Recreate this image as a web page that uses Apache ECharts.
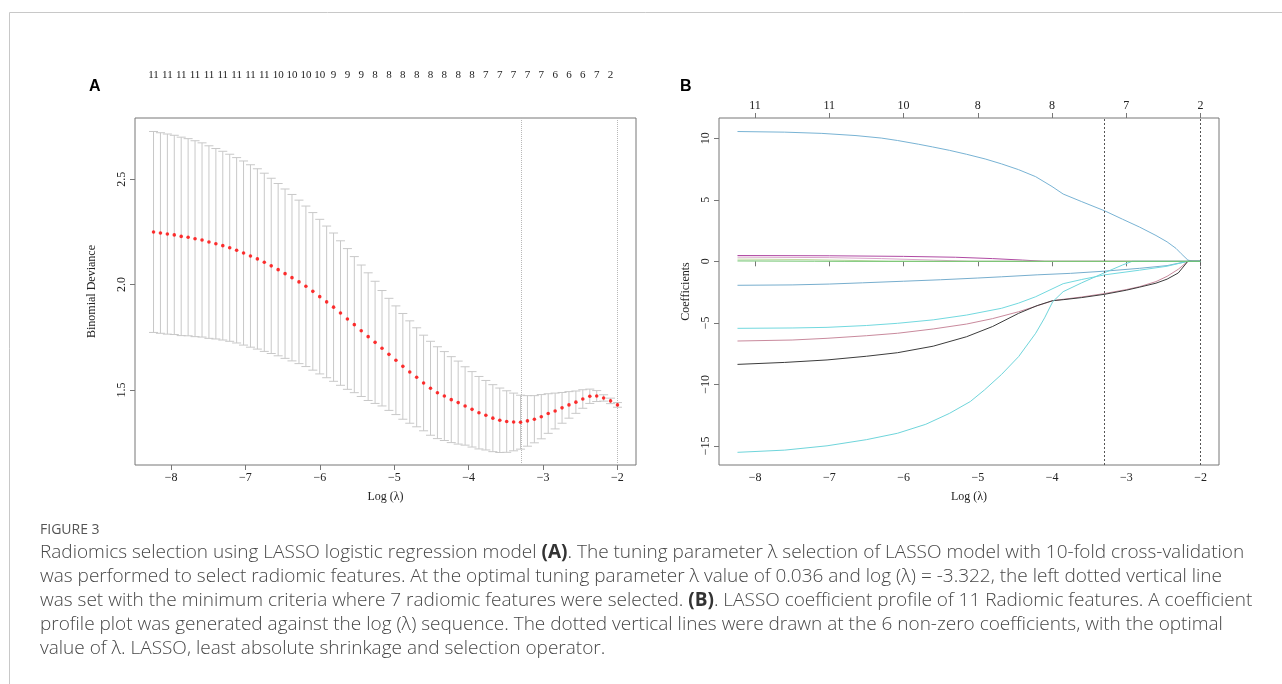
<!DOCTYPE html>
<html><head><meta charset="utf-8">
<script src="https://cdn.jsdelivr.net/npm/echarts@6/dist/echarts.min.js"></script>
<style>html,body{margin:0;padding:0;background:#fff;}#c{width:1282px;height:684px;}</style>
</head><body><div id="c"></div>
<script>
// ---------- Panel A: cross-validation curve ----------
const logLambda = [-8.236,-8.143,-8.050,-7.957,-7.864,-7.771,-7.678,-7.584,-7.491,-7.398,
  -7.305,-7.212,-7.119,-7.026,-6.933,-6.840,-6.747,-6.654,-6.561,-6.468,
  -6.375,-6.281,-6.188,-6.095,-6.002,-5.909,-5.816,-5.723,-5.630,-5.537,
  -5.444,-5.351,-5.258,-5.165,-5.072,-4.978,-4.885,-4.792,-4.699,-4.606,
  -4.513,-4.420,-4.327,-4.234,-4.141,-4.048,-3.955,-3.862,-3.769,-3.675,
  -3.582,-3.489,-3.396,-3.303,-3.210,-3.117,-3.024,-2.931,-2.838,-2.745,
  -2.652,-2.559,-2.466,-2.372,-2.279,-2.186,-2.093,-2.000];
const cvMean = [2.250,2.245,2.240,2.236,2.229,2.225,2.218,2.212,2.202,2.194,
  2.185,2.175,2.163,2.150,2.136,2.122,2.106,2.089,2.071,2.052,
  2.033,2.013,1.992,1.968,1.943,1.918,1.893,1.865,1.837,1.810,
  1.781,1.753,1.726,1.698,1.669,1.641,1.612,1.585,1.560,1.533,
  1.508,1.487,1.471,1.454,1.440,1.424,1.408,1.392,1.380,1.366,
  1.356,1.350,1.348,1.347,1.353,1.361,1.373,1.388,1.400,1.415,
  1.429,1.442,1.457,1.470,1.471,1.462,1.448,1.429];
const cvUpper = [2.727,2.721,2.715,2.709,2.700,2.693,2.683,2.673,2.659,2.646,
  2.633,2.619,2.603,2.587,2.569,2.550,2.529,2.505,2.480,2.454,
  2.428,2.401,2.373,2.342,2.310,2.278,2.245,2.208,2.171,2.133,
  2.093,2.056,2.016,1.972,1.935,1.899,1.863,1.828,1.795,1.760,
  1.731,1.705,1.682,1.658,1.637,1.610,1.587,1.564,1.545,1.525,
  1.509,1.496,1.485,1.475,1.473,1.473,1.478,1.482,1.485,1.488,
  1.492,1.495,1.501,1.504,1.497,1.477,1.461,1.440];
const cvLower = [1.773,1.769,1.765,1.763,1.758,1.757,1.753,1.751,1.745,1.742,
  1.737,1.731,1.723,1.713,1.703,1.694,1.683,1.673,1.662,1.650,
  1.638,1.625,1.611,1.594,1.576,1.558,1.541,1.522,1.503,1.487,
  1.469,1.450,1.436,1.424,1.403,1.383,1.361,1.342,1.325,1.306,
  1.285,1.269,1.260,1.250,1.243,1.238,1.229,1.220,1.215,1.207,
  1.203,1.204,1.211,1.219,1.233,1.249,1.268,1.294,1.315,1.342,
  1.366,1.389,1.413,1.436,1.445,1.447,1.435,1.418];
// non-zero counts shown on top of panel A (every second lambda)
const nzTopA = [11,11,11,11,11,11,11,11,11,10,10,10,10,9,9,9,8,8,8,8,8,8,8,8,7,7,7,7,7,6,6,6,7,2];
const vLinesA = [-3.303,-2.000];
const yTicksA = [1.5,2.0,2.5];
const xTicks = [-8,-7,-6,-5,-4,-3,-2];

// ---------- Panel B: coefficient profiles ----------
const yTicksB = [-15,-10,-5,0,5,10];
const nzTopB = [11,11,10,8,8,7,2];
const vLinesB = [-3.303,-2.000];
const coefBlueTop = [[-8.236,10.55],[-7.6,10.50],[-7.1,10.40],[-6.64,10.22],[-6.3,10.02],[-6.08,9.82],[-5.8,9.52],[-5.61,9.30],[-5.38,9.02],[-5.15,8.70],[-4.9,8.32],[-4.68,7.92],[-4.45,7.45],[-4.22,6.88],[-4.0,6.08],[-3.85,5.47],[-3.6,4.85],[-3.29,4.10],[-3.05,3.42],[-2.82,2.78],[-2.6,2.10],[-2.45,1.58],[-2.33,1.05],[-2.26,0.62],[-2.17,0.10],[-2.10,0],[-2.0,0]];
const coefMagenta = [[-8.236,0.47],[-7.0,0.45],[-6.0,0.40],[-5.3,0.33],[-4.8,0.22],[-4.4,0.10],[-4.1,0],[-2.0,0]];
const coefPink = [[-8.236,0.34],[-7.0,0.30],[-6.3,0.22],[-5.6,0.10],[-5.1,0],[-2.0,0]];
const coefLightGreen = [[-8.236,0.18],[-7.3,0.14],[-6.6,0.06],[-6.2,0],[-2.0,0]];
const coefBlueMid = [[-8.236,-1.95],[-7.5,-1.92],[-7.0,-1.85],[-6.55,-1.75],[-6.0,-1.62],[-5.5,-1.50],[-5.0,-1.36],[-4.68,-1.26],[-4.2,-1.10],[-3.75,-0.98],[-3.29,-0.80],[-2.82,-0.57],[-2.45,-0.35],[-2.17,0],[-2.0,0]];
const coefCyanA = [[-8.236,-5.45],[-7.5,-5.42],[-7.03,-5.37],[-6.5,-5.22],[-6.08,-5.04],[-5.6,-4.76],[-5.15,-4.37],[-4.68,-3.82],[-4.45,-3.40],[-4.22,-2.88],[-4.0,-2.25],[-3.85,-1.82],[-3.6,-1.48],[-3.29,-1.10],[-2.82,-0.72],[-2.45,-0.40],[-2.17,0],[-2.0,0]];
const coefRose = [[-8.236,-6.48],[-7.5,-6.40],[-7.03,-6.26],[-6.5,-6.05],[-6.08,-5.85],[-5.6,-5.50],[-5.15,-5.10],[-4.8,-4.66],[-4.45,-4.10],[-4.2,-3.62],[-3.99,-3.20],[-3.85,-3.09],[-3.6,-2.90],[-3.29,-2.62],[-3.0,-2.30],[-2.82,-2.06],[-2.6,-1.65],[-2.45,-1.22],[-2.3,-0.65],[-2.17,0],[-2.0,0]];
const coefBlack = [[-8.236,-8.38],[-7.6,-8.22],[-7.03,-8.02],[-6.5,-7.72],[-6.08,-7.43],[-5.6,-6.90],[-5.15,-6.13],[-4.8,-5.30],[-4.45,-4.23],[-4.2,-3.60],[-3.99,-3.20],[-3.85,-3.12],[-3.6,-2.95],[-3.29,-2.68],[-3.0,-2.35],[-2.82,-2.10],[-2.6,-1.78],[-2.45,-1.45],[-2.3,-0.95],[-2.17,0],[-2.0,0]];
const coefCyanB = [[-8.236,-15.53],[-7.6,-15.35],[-7.03,-15.0],[-6.5,-14.5],[-6.08,-13.98],[-5.7,-13.25],[-5.38,-12.36],[-5.1,-11.4],[-4.91,-10.46],[-4.68,-9.2],[-4.45,-7.75],[-4.22,-5.85],[-4.1,-4.6],[-3.99,-3.28],[-3.85,-2.47],[-3.6,-1.75],[-3.29,-0.92],[-3.05,-0.30],[-2.92,0],[-2.0,0]];
const coefGreen = [[-8.236,0.03],[-7.2,0.01],[-6.8,0],[-2.0,0]];

// ---------- helpers ----------
const SERIF = 'Liberation Serif';
const minusFmt = v => (v < 0 ? '\u2212' + Math.abs(v) : String(v));
const topPosA = logLambda.filter((_, i) => i % 2 === 0);
function lookup(arr, labels, v) {
  for (let k = 0; k < arr.length; k++) if (Math.abs(arr[k] - v) < 1e-6) return String(labels[k]);
  return '';
}
const axisText = {fontFamily: SERIF, fontSize: 12, color: '#222'};
const tickStyle = {color: '#777', width: 1};
const X_MIN = -8.485, X_MAX = -1.751;

function bottomX(grid) {
  return {gridIndex: grid, type: 'value', min: X_MIN, max: X_MAX, position: 'bottom',
    axisLine: {show: false}, splitLine: {show: false},
    axisTick: {show: true, length: 5, lineStyle: tickStyle, customValues: xTicks},
    axisLabel: Object.assign({customValues: xTicks, formatter: minusFmt, margin: 7}, axisText),
    name: 'Log (\u03bb)', nameLocation: 'middle', nameGap: 26,
    nameTextStyle: {fontFamily: SERIF, fontSize: 12, color: '#222'}};
}

const errorData = logLambda.map((x, i) => [x, cvLower[i], cvUpper[i]]);
const meanData = logLambda.map((x, i) => [x, cvMean[i]]);

function coefSeries(data, color) {
  return {type: 'line', xAxisIndex: 2, yAxisIndex: 1, data: data, showSymbol: false,
    smooth: false, silent: true,
    lineStyle: {color: color, width: 1}, z: 3};
}

const caption = [
  'Radiomics selection using LASSO logistic regression model {b|(A)}. The tuning parameter \u03bb selection of LASSO model with 10-fold cross-validation',
  'was performed to select radiomic features. At the optimal tuning parameter \u03bb value of 0.036 and log (\u03bb) = -3.322, the left dotted vertical line',
  'was set with the minimum criteria where 7 radiomic features were selected. {b|(B)}. LASSO coefficient profile of 11 Radiomic features. A coefficient',
  'profile plot was generated against the log (\u03bb) sequence. The dotted vertical lines were drawn at the 6 non-zero coefficients, with the optimal',
  'value of \u03bb. LASSO, least absolute shrinkage and selection operator.'
];
const CAP_SIZE = 19;
const capGraphics = caption.map((t, i) => ({
  type: 'text', left: 40, top: 543 + i * 24, silent: true,
  style: {text: t, fontFamily: 'Open Sans', fontSize: CAP_SIZE, fontWeight: 300, fill: '#474747',
    rich: {b: {fontFamily: 'Open Sans', fontSize: CAP_SIZE, fontWeight: 'bold', fill: '#333'}}}
}));

const chart = echarts.init(document.getElementById('c'), null, {renderer: 'canvas'});
chart.setOption({
  animation: false,
  backgroundColor: '#fff',
  grid: [
    {left: 135, top: 118, width: 501, height: 347, show: true, borderColor: '#777', borderWidth: 1, backgroundColor: 'transparent'},
    {left: 719, top: 118, width: 500, height: 347, show: true, borderColor: '#777', borderWidth: 1, backgroundColor: 'transparent'}
  ],
  xAxis: [
    bottomX(0),
    {gridIndex: 0, type: 'value', min: X_MIN, max: X_MAX, position: 'top',
      axisLine: {show: false}, axisTick: {show: false}, splitLine: {show: false},
      axisLabel: Object.assign({customValues: topPosA, formatter: v => lookup(topPosA, nzTopA, v), margin: 37}, axisText, {fontSize: 11})},
    bottomX(1),
    {gridIndex: 1, type: 'value', min: X_MIN, max: X_MAX, position: 'top',
      axisLine: {show: false}, splitLine: {show: false},
      axisTick: {show: true, length: 5, lineStyle: tickStyle, customValues: xTicks},
      axisLabel: Object.assign({customValues: xTicks, formatter: v => lookup(xTicks, nzTopB, v), margin: 6}, axisText)}
  ],
  yAxis: [
    {gridIndex: 0, type: 'value', min: 1.1437, max: 2.791,
      axisLine: {show: false}, splitLine: {show: false},
      axisTick: {show: true, length: 5, lineStyle: tickStyle, customValues: yTicksA},
      axisLabel: Object.assign({customValues: yTicksA, formatter: v => v.toFixed(1), rotate: 90, margin: 7}, axisText),
      name: 'Binomial Deviance', nameLocation: 'middle', nameGap: 37, nameRotate: 90,
      nameTextStyle: {fontFamily: SERIF, fontSize: 12, color: '#222'}},
    {gridIndex: 1, type: 'value', min: -16.56, max: 11.65,
      axisLine: {show: false}, splitLine: {show: false},
      axisTick: {show: true, length: 5, lineStyle: tickStyle, customValues: yTicksB},
      axisLabel: Object.assign({customValues: yTicksB, formatter: minusFmt, rotate: 90, margin: 7}, axisText),
      name: 'Coefficients', nameLocation: 'middle', nameGap: 27, nameRotate: 90,
      nameTextStyle: {fontFamily: SERIF, fontSize: 12, color: '#222'}}
  ],
  series: [
    {type: 'custom', xAxisIndex: 0, yAxisIndex: 0, data: errorData, silent: true, z: 2,
      encode: {x: 0, y: [1, 2]},
      renderItem: function (params, api) {
        const x = api.value(0);
        const lo = api.coord([x, api.value(1)]);
        const hi = api.coord([x, api.value(2)]);
        const w = 4.5;
        const st = {stroke: '#c8c8c8', lineWidth: 1};
        return {type: 'group', children: [
          {type: 'line', shape: {x1: lo[0], y1: lo[1], x2: hi[0], y2: hi[1]}, style: st},
          {type: 'line', shape: {x1: hi[0] - w, y1: hi[1], x2: hi[0] + w, y2: hi[1]}, style: st},
          {type: 'line', shape: {x1: lo[0] - w, y1: lo[1], x2: lo[0] + w, y2: lo[1]}, style: st}
        ]};
      }},
    {type: 'scatter', xAxisIndex: 0, yAxisIndex: 0, data: meanData, symbol: 'circle', symbolSize: 3.6,
      itemStyle: {color: '#ff0000'}, silent: true, z: 5,
      markLine: {silent: true, symbol: ['none', 'none'], label: {show: false},
        lineStyle: {type: 'dotted', color: '#b8b8b8', width: 1}, data: vLinesA.map(v => ({xAxis: v}))}},
    coefSeries(coefBlueTop, '#78b3d4'),
    coefSeries(coefMagenta, '#b04aa3'),
    coefSeries(coefPink, '#dba6cc'),
    coefSeries(coefLightGreen, '#c3d9a6'),
    coefSeries(coefBlueMid, '#77aece'),
    coefSeries(coefCyanA, '#72d9df'),
    coefSeries(coefRose, '#c98a9d'),
    coefSeries(coefBlack, '#3c3c3c'),
    coefSeries(coefCyanB, '#6fd5db'),
    Object.assign(coefSeries(coefGreen, '#6cc26a'), {
      markLine: {silent: true, symbol: ['none', 'none'], label: {show: false},
        lineStyle: {type: [2, 2], color: '#555', width: 1}, data: vLinesB.map(v => ({xAxis: v}))}})
  ],
  graphic: [
    {type: 'line', silent: true, shape: {x1: 9.5, y1: 12.5, x2: 1282, y2: 12.5}, style: {stroke: '#c8c8c8', lineWidth: 1}},
    {type: 'line', silent: true, shape: {x1: 9.5, y1: 12.5, x2: 9.5, y2: 684}, style: {stroke: '#c8c8c8', lineWidth: 1}},
    {type: 'text', left: 89, top: 79, silent: true, style: {text: 'A', fontFamily: 'Liberation Sans', fontSize: 16, fontWeight: 'bold', fill: '#000'}},
    {type: 'text', left: 680, top: 79, silent: true, style: {text: 'B', fontFamily: 'Liberation Sans', fontSize: 16, fontWeight: 'bold', fill: '#000'}},
    {type: 'text', left: 40, top: 523, silent: true, style: {text: 'FIGURE 3', fontFamily: 'Open Sans', fontSize: 14, fill: '#555'}}
  ].concat(capGraphics)
});
</script>
</body></html>
